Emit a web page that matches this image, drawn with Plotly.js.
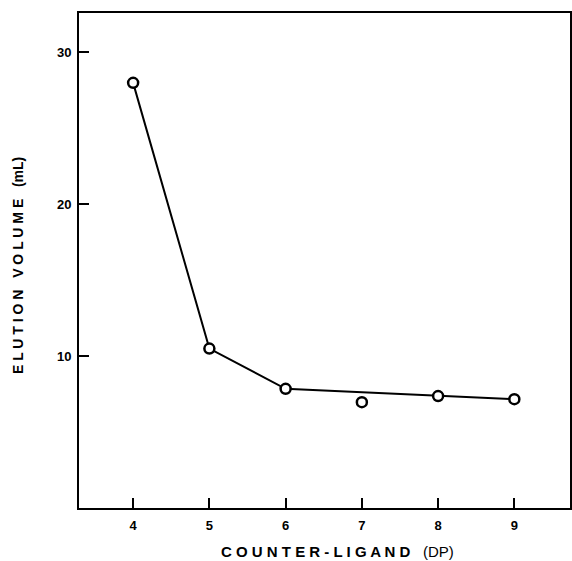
<!DOCTYPE html>
<html>
<head>
<meta charset="utf-8">
<script src="https://cdn.plot.ly/plotly-3.0.1.min.js"></script>
<style>
  html, body { margin: 0; padding: 0; background: #fff; }
  #chart { width: 572px; height: 561px; }
</style>
</head>
<body>
<div id="chart"></div>
<script>
// Degree of polymerization of the counter-ligand
const dp = [4, 5, 6, 7, 8, 9];
// Elution volume (mL)
const elutionVolume = [28.0, 10.5, 7.85, 6.97, 7.37, 7.17];
// Which points the drawn curve passes through
const onCurve = [true, true, true, false, true, true];

const xTicks = [4, 5, 6, 7, 8, 9];
const yTicks = [10, 20, 30];

const xTitle = '<b>C O U N T E R - L I G A N D</b>   (DP)';
const yTitle = '<b>E L U T I O N   V O L U M E   (mL)</b>';

const curveX = dp.filter((_, i) => onCurve[i]);
const curveY = elutionVolume.filter((_, i) => onCurve[i]);

const traces = [
  {
    x: curveX, y: curveY, type: 'scatter', mode: 'lines',
    line: { color: '#000', width: 2 }, hoverinfo: 'skip', showlegend: false
  },
  {
    x: dp, y: elutionVolume, type: 'scatter', mode: 'markers',
    marker: { symbol: 'circle', size: 10, color: '#fff', line: { color: '#000', width: 2.5 } },
    showlegend: false
  }
];

const fam = 'Liberation Sans, Arial, sans-serif';
const tickFont = { family: fam, size: 13, color: '#000', weight: 'bold' };

const layout = {
  width: 572, height: 561,
  margin: { l: 79, r: 2, t: 13, b: 53 },
  paper_bgcolor: '#fff', plot_bgcolor: '#fff',
  xaxis: {
    range: [3.29, 9.73], tickvals: xTicks, ticktext: xTicks.map(String),
    ticks: 'inside', ticklen: 10, tickwidth: 2, tickcolor: '#000',
    showline: true, mirror: true, linecolor: '#000', linewidth: 2,
    showgrid: false, zeroline: false, tickfont: tickFont, ticklabelstandoff: 4
  },
  yaxis: {
    range: [0, 32.6], tickvals: yTicks, ticktext: yTicks.map(String),
    ticks: 'inside', ticklen: 10, tickwidth: 2, tickcolor: '#000',
    showline: true, mirror: true, linecolor: '#000', linewidth: 2,
    showgrid: false, zeroline: false, tickfont: tickFont, ticklabelstandoff: 3
  },
  annotations: [
    {
      text: xTitle, xref: 'paper', yref: 'paper',
      x: 0.527, y: -0.088, xanchor: 'center', yanchor: 'middle',
      showarrow: false, font: { family: fam, size: 15, color: '#000' }
    },
    {
      text: yTitle, xref: 'paper', yref: 'paper', textangle: -90,
      x: -0.123, y: 0.49, xanchor: 'center', yanchor: 'middle',
      showarrow: false, font: { family: fam, size: 14, color: '#000' }
    }
  ]
};

Plotly.newPlot('chart', traces, layout, { displayModeBar: false, staticPlot: true });
</script>
</body>
</html>
